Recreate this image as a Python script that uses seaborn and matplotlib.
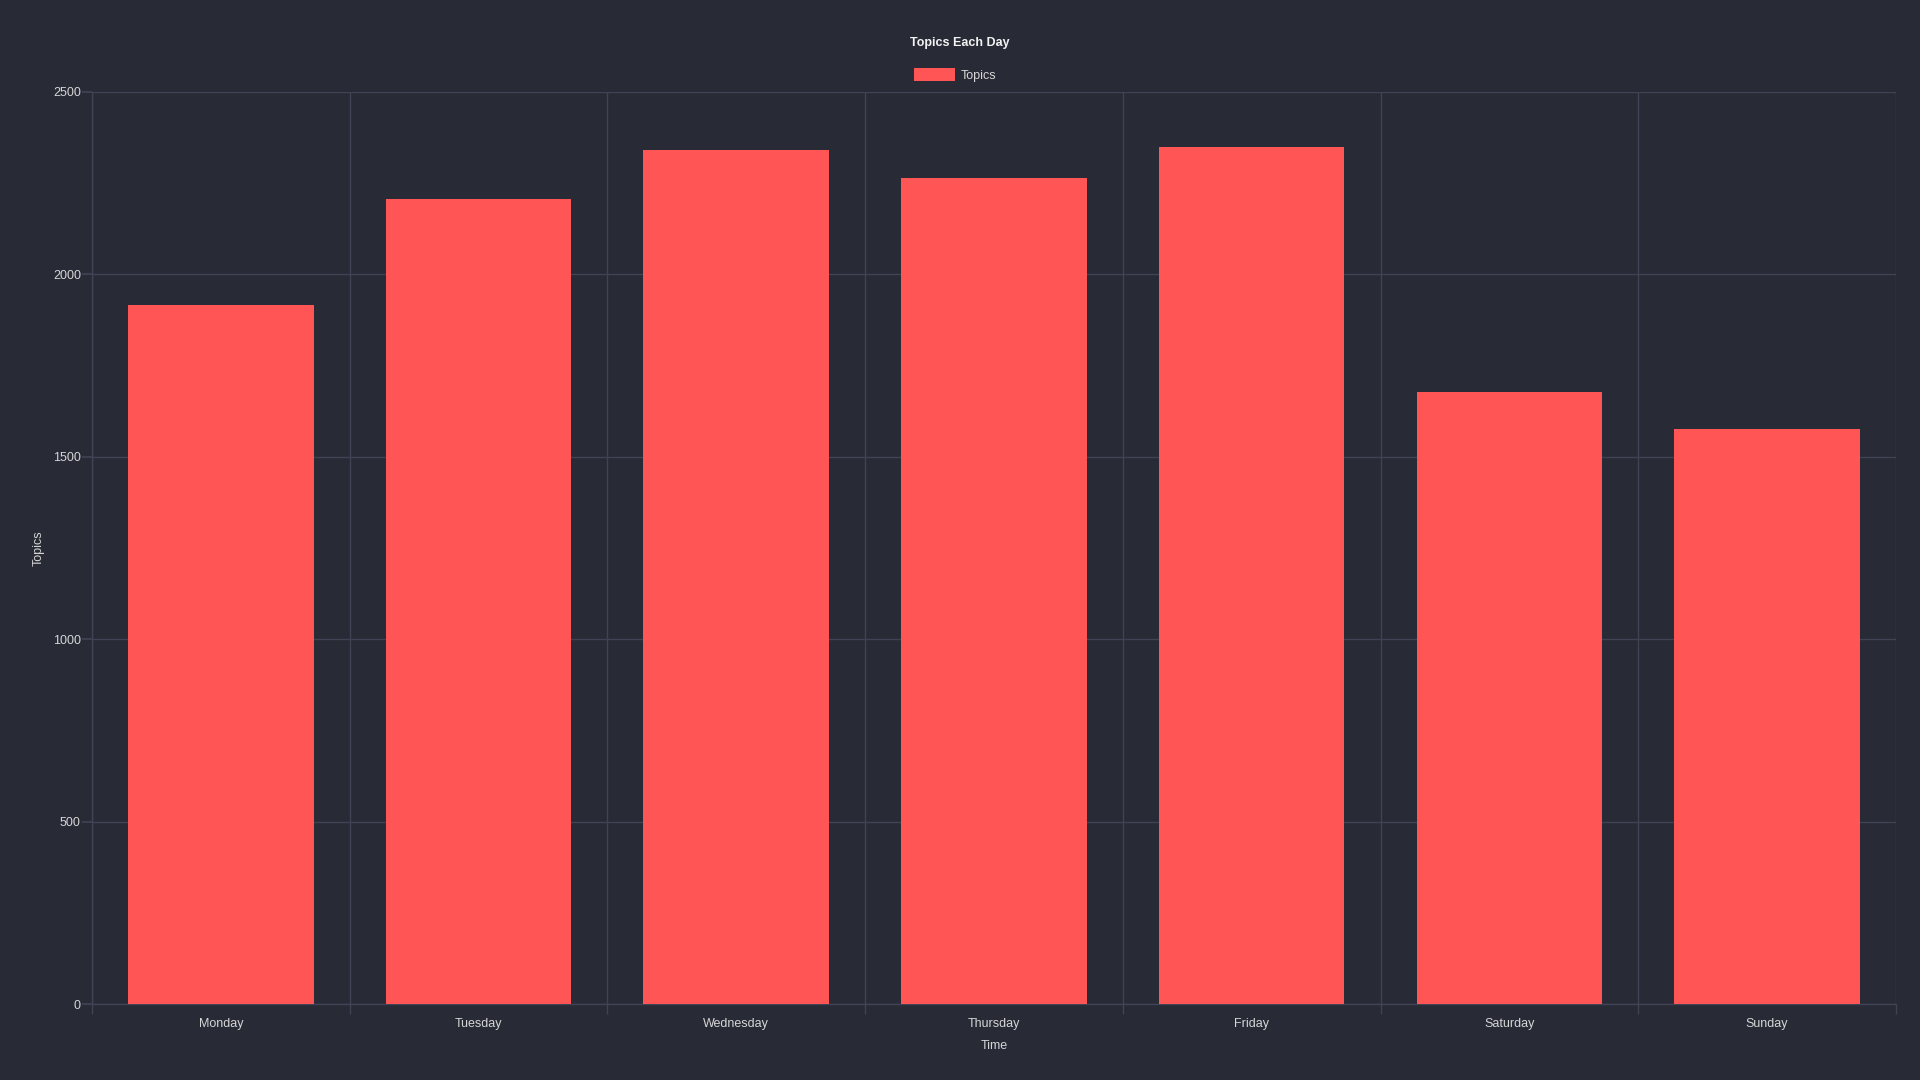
import matplotlib
matplotlib.use("Agg")
import matplotlib.pyplot as plt
import seaborn as sns
import pandas as pd
from matplotlib.ticker import FixedLocator

# Data
days = ["Monday", "Tuesday", "Wednesday", "Thursday", "Friday", "Saturday", "Sunday"]
topics = [1916, 2206, 2340, 2263, 2350, 1678, 1576]
y_ticks = [0, 500, 1000, 1500, 2000, 2500]

# Colours (dark theme)
BG = "#282a36"
BAR = "#ff5555"
GRID = "#404354"
TEXT = "#d6d6d6"
TITLE = "#f2f2f2"

df = pd.DataFrame({"Day": days, "Topics": topics})

sns.set_theme(style="dark")
plt.rcParams["font.family"] = ["Liberation Sans", "DejaVu Sans"]

fig = plt.figure(figsize=(19.2, 10.8), dpi=100, facecolor=BG)
ax = fig.add_axes([0.0479, 0.0701, 0.9396, 0.8449])
ax.set_facecolor(BG)

sns.barplot(data=df, x="Day", y="Topics", color=BAR, saturation=1,
            width=0.72, label="Topics", ax=ax, zorder=3,
            linewidth=0, edgecolor="none")

# y axis
ax.set_ylim(0, 2500)
ax.set_yticks(y_ticks)
ax.tick_params(axis="y", which="major", length=7, color=GRID, labelsize=9,
               labelcolor=TEXT, pad=1, left=True)
ax.yaxis.grid(True, color=GRID, linewidth=1)

# x axis: labels at the centres, grid lines at category boundaries
ax.set_xlim(-0.5, len(days) - 0.5)
ax.xaxis.set_minor_locator(FixedLocator([i - 0.5 for i in range(len(days) + 1)]))
ax.tick_params(axis="x", which="major", length=0, labelsize=9,
               labelcolor=TEXT, pad=10)
ax.tick_params(axis="x", which="minor", length=7, color=GRID, bottom=True)
ax.xaxis.grid(True, which="minor", color=GRID, linewidth=1)
ax.xaxis.grid(False, which="major")
ax.set_axisbelow(True)

for side in ["top", "right"]:
    ax.spines[side].set_visible(False)
for side in ["left", "bottom"]:
    ax.spines[side].set_color(GRID)
    ax.spines[side].set_linewidth(1)

ax.set_xlabel("Time", color=TEXT, fontsize=9, labelpad=7)
ax.set_ylabel("Topics", color=TEXT, fontsize=9, labelpad=6)

fig.text(0.5, 0.9605, "Topics Each Day", ha="center", va="center",
         color=TITLE, fontsize=9, fontweight="bold")

leg = ax.legend(loc="center", bbox_to_anchor=(0.4974, 0.9305), bbox_transform=fig.transFigure,
                frameon=False, fontsize=9, labelcolor=TEXT, handlelength=3.3,
                handleheight=1.25, handletextpad=0.4)
for h in leg.legend_handles:
    h.set_edgecolor("none")
    h.set_linewidth(0)

fig.savefig("out.png", dpi=100, facecolor=BG)
